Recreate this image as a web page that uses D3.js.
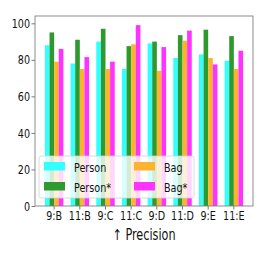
<!DOCTYPE html>
<html>
<head>
<meta charset="utf-8">
<script src="https://cdn.jsdelivr.net/npm/d3@7"></script>
<style>
  body { margin: 0; background: #fff; }
  svg { display: block; font-family: "DejaVu Sans", sans-serif; }
</style>
</head>
<body>
<svg></svg>
<script>
const categories = ["9:B", "11:B", "9:C", "11:C", "9:D", "11:D", "9:E", "11:E"];
const seriesNames = ["Person", "Person*", "Bag", "Bag*"];
const person = [88, 78, 90, 75, 89, 81, 83, 79.5];
const personStar = [95, 91, 97, 87.5, 90, 93.5, 96.5, 93];
const bag = [79, 75, 75, 88.5, 74, 90.5, 81, 75];
const bagStar = [86, 81.5, 79, 99, 87, 96, 77.5, 85];
const colors = ["#33ffff", "#2e992e", "#ffb22e", "#ff33ff"];
const yTicks = [0, 20, 40, 60, 80, 100];

const width = 266;
const height = 256;
const margin = { top: 16, left: 35, right: 13, bottom: 50 };
const innerWidth = width - margin.left - margin.right;
const innerHeight = height - margin.top - margin.bottom;
// the picture is squeezed sideways, so text is narrowed the same way
const squeezeX = 0.75;

function squeeze(sel) {
  sel.each(function() {
    const len = this.getComputedTextLength();
    d3.select(this)
      .attr("textLength", len * squeezeX)
      .attr("lengthAdjust", "spacingAndGlyphs");
  });
}

const svg = d3.select("svg").attr("width", width).attr("height", height);
const plot = svg
  .append("g")
  .attr("transform", `translate(${margin.left},${margin.top})`);

const series = [person, personStar, bag, bagStar];

const x = d3
  .scaleBand()
  .domain(categories)
  .range([0, innerWidth])
  .paddingInner(0.28)
  .paddingOuter(0.386);

const xSub = d3
  .scaleBand()
  .domain(d3.range(series.length))
  .range([0, x.bandwidth()]);

const y = d3.scaleLinear().domain([0, 104]).range([innerHeight, 0]);

// bars
plot
  .selectAll("g.series")
  .data(series)
  .join("g")
  .classed("series", true)
  .attr("fill", (_, i) => colors[i])
  .each(function(vals, si) {
    d3.select(this)
      .selectAll("rect")
      .data(vals)
      .join("rect")
      .attr("x", (_, i) => x(categories[i]) + xSub(si))
      .attr("width", xSub.bandwidth())
      .attr("y", d => y(d))
      .attr("height", d => innerHeight - y(d));
  });

// axes
const yAxis = plot
  .append("g")
  .call(d3.axisLeft(y).tickValues(yTicks).tickSize(3.5).tickPadding(1.5));
const xAxis = plot
  .append("g")
  .attr("transform", `translate(0,${innerHeight})`)
  .call(d3.axisBottom(x).tickSize(3.5).tickPadding(1.5));

[yAxis, xAxis].forEach(a => {
  a.select(".domain").remove();
  a.selectAll(".tick line").attr("stroke", "#555").attr("stroke-width", 0.8);
  a.selectAll(".tick text")
    .attr("fill", "#111")
    .attr("font-size", "12.8px")
    .attr("font-family", "DejaVu Sans")
    .call(squeeze);
});

// frame
plot
  .append("rect")
  .attr("width", innerWidth)
  .attr("height", innerHeight)
  .attr("fill", "none")
  .attr("stroke", "#808080")
  .attr("stroke-width", 0.9);

// x label
svg
  .append("text")
  .attr("x", margin.left + innerWidth / 2)
  .attr("y", 239.5)
  .attr("text-anchor", "middle")
  .attr("font-size", "15px")
  .attr("fill", "#111")
  .text("↑ Precision")
  .call(squeeze);

// legend
const legend = svg.append("g").attr("transform", "translate(39,156)");
legend
  .append("rect")
  .attr("width", 155)
  .attr("height", 42)
  .attr("rx", 2.5)
  .attr("fill", "white")
  .attr("fill-opacity", 0.8)
  .attr("stroke", "#d0d0d0")
  .attr("stroke-width", 0.8);

const entries = legend
  .selectAll("g.entry")
  .data(seriesNames)
  .join("g")
  .classed("entry", true)
  .attr(
    "transform",
    (_, i) => `translate(${Math.floor(i / 2) * 90 + 5},${(i % 2) * 20 + 6})`
  );

entries
  .append("rect")
  .attr("width", 21)
  .attr("height", 8.5)
  .attr("fill", (_, i) => colors[i]);

entries
  .append("text")
  .attr("x", 30)
  .attr("y", 9.5)
  .attr("font-size", "12.8px")
  .attr("fill", "#111")
  .text(d => d)
  .call(squeeze);
</script>
</body>
</html>
